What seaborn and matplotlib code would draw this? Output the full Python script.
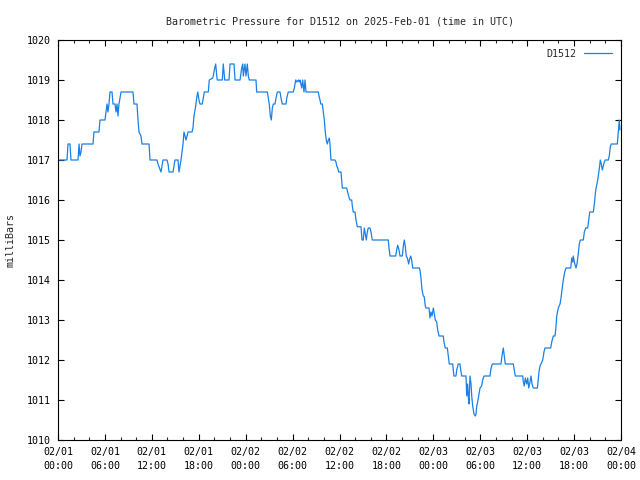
import matplotlib
matplotlib.use("Agg")
import matplotlib.pyplot as plt
import seaborn as sns
import pandas as pd
from matplotlib.ticker import MultipleLocator

# hours since 2025-02-01 00:00 UTC
hours = [
    0.00, 1.15, 1.28, 1.53, 1.66, 2.56, 2.69, 2.81, 2.94, 3.07, 4.48, 4.60, 5.24, 5.37, 6.01,
    6.14, 6.27, 6.39, 6.52, 6.65, 6.91, 7.03, 7.29, 7.42, 7.55, 7.67, 7.80, 8.06, 9.59, 9.72,
    10.10, 10.23, 10.36, 10.61, 10.74, 11.64, 11.77, 12.66, 12.79, 13.17, 13.43, 13.94, 14.07,
    14.20, 14.71, 14.96, 15.35, 15.47, 15.73, 15.86, 15.99,
    16.11, 16.24, 16.37, 16.50, 16.63, 17.14, 17.26, 17.39, 17.61, 17.74, 17.87, 18.03, 18.16,
    18.45, 18.58, 18.71, 19.22, 19.35, 19.78, 19.86, 19.99, 20.17, 20.30, 20.37, 21.01, 21.14,
    21.32, 21.87, 22.00, 22.51, 22.64, 23.28, 23.49, 23.62, 23.70, 23.91, 24.04, 24.21, 24.34,
    24.46, 25.32, 25.41, 26.77, 26.89, 27.02, 27.15, 27.28, 27.41, 27.53, 27.75, 27.88, 28.05,
    28.39, 28.52, 28.68, 29.16, 29.25, 29.45, 30.09, 30.22, 30.40, 30.53, 30.73, 30.86, 30.95,
    31.17, 31.29, 31.46, 31.59, 31.72,
    33.29, 33.38, 33.51, 33.60, 33.80, 33.93, 34.06, 34.18, 34.31, 34.44, 34.57, 34.70, 34.78,
    34.87, 34.91, 35.42, 35.55, 35.64, 35.77, 35.90, 36.19, 36.28, 36.36, 36.92, 37.05, 37.21,
    37.34, 37.56, 37.64, 37.76, 37.98, 38.11, 38.28, 38.75, 38.88, 39.04, 39.17, 39.30, 39.43,
    39.52, 39.61, 39.68, 39.90, 40.03, 40.19, 42.24, 42.33, 42.46, 43.19, 43.31, 43.44, 43.61,
    43.74, 44.03, 44.16, 44.29, 44.42, 44.54, 44.67, 44.85, 44.93, 45.11, 45.23, 45.36, 46.21,
    46.29, 46.42, 46.55, 46.72, 46.84, 46.97, 47.06, 47.45, 47.57, 47.70, 47.83, 48.00, 48.12,
    48.25, 48.43, 48.56, 48.72, 49.27, 49.36, 49.53, 49.79, 49.91, 50.04, 50.48, 50.55, 50.64,
    50.90, 50.99, 51.19, 51.41, 51.50, 51.63, 52.18, 52.27, 52.39, 52.47, 52.56, 52.69, 52.82,
    52.91, 53.03, 53.20, 53.37, 53.46, 53.55, 53.67, 53.80, 53.97, 54.18, 54.31, 54.48, 55.25,
    55.34, 55.46, 55.54, 56.65, 56.78, 56.95, 57.08, 57.20, 58.23, 58.35, 58.48, 59.43, 59.51,
    59.63, 59.76, 59.94, 60.07, 60.20, 60.36, 60.49, 60.62, 60.78, 61.30, 61.39, 61.51, 61.64,
    61.77, 61.99, 62.15, 62.28, 63.01, 63.14, 63.27, 63.34, 63.56, 63.65, 63.78, 63.98, 64.20,
    64.33, 64.45, 64.62, 64.80, 64.97, 65.57, 65.70, 65.82, 65.90, 66.03, 66.24, 66.37, 66.50,
    66.67, 66.80, 67.18, 67.31, 67.49, 67.74, 67.87, 68.00, 68.46, 68.59, 68.77, 68.89, 69.02,
    69.15, 69.28, 69.35, 69.48, 69.61, 69.74, 69.86, 69.99, 70.38, 70.50, 70.63, 70.76, 71.53,
    71.65, 71.78, 71.87,
]

pressure = [
    1017.0, 1017.0, 1017.4, 1017.4, 1017.0, 1017.0, 1017.4, 1017.1, 1017.2, 1017.4, 1017.4,
    1017.7, 1017.7, 1018.0, 1018.0, 1018.2, 1018.4, 1018.2, 1018.4, 1018.7, 1018.7, 1018.4,
    1018.4, 1018.2, 1018.4, 1018.1, 1018.4, 1018.7, 1018.7, 1018.4, 1018.4, 1018.0, 1017.7,
    1017.6, 1017.4, 1017.4, 1017.0, 1017.0, 1016.9, 1016.7, 1017.0, 1017.0, 1016.9, 1016.7,
    1016.7, 1017.0, 1017.0, 1016.7, 1017.0, 1017.2, 1017.4,
    1017.7, 1017.6, 1017.5, 1017.6, 1017.7, 1017.7, 1017.8, 1018.1, 1018.35, 1018.55, 1018.7,
    1018.5, 1018.4, 1018.4, 1018.55, 1018.7, 1018.7, 1019.0, 1019.05, 1019.1, 1019.25, 1019.4,
    1019.1, 1019.0, 1019.0, 1019.4, 1019.0, 1019.0, 1019.4, 1019.4, 1019.0, 1019.0, 1019.3,
    1019.4, 1019.1, 1019.4, 1019.1, 1019.4, 1019.1, 1019.0, 1019.0, 1018.7, 1018.7, 1018.55,
    1018.4, 1018.1, 1018.0, 1018.3, 1018.4, 1018.4, 1018.55, 1018.7, 1018.7, 1018.55, 1018.4,
    1018.4, 1018.55, 1018.7, 1018.7, 1018.8, 1019.0, 1018.95, 1019.0, 1018.95, 1019.0, 1018.8,
    1019.0, 1018.7, 1019.0, 1018.7,
    1018.7, 1018.6, 1018.5, 1018.4, 1018.4, 1018.2, 1018.0, 1017.7, 1017.5, 1017.4, 1017.5,
    1017.55, 1017.4, 1017.1, 1017.0, 1017.0, 1016.95, 1016.85, 1016.8, 1016.7, 1016.7, 1016.5,
    1016.3, 1016.3, 1016.2, 1016.07, 1016.0, 1016.0, 1015.85, 1015.7, 1015.7, 1015.5, 1015.33,
    1015.33, 1015.0, 1015.0, 1015.3, 1015.15, 1015.0, 1015.15, 1015.25, 1015.3, 1015.3, 1015.2,
    1015.0, 1015.0, 1014.8, 1014.6, 1014.6, 1014.75, 1014.87, 1014.75, 1014.6, 1014.6, 1014.85,
    1015.0, 1014.83, 1014.6, 1014.55, 1014.4, 1014.5, 1014.6, 1014.5, 1014.3, 1014.3, 1014.25,
    1014.05, 1013.75, 1013.6, 1013.58, 1013.35, 1013.3, 1013.3, 1013.05, 1013.2, 1013.1, 1013.3,
    1013.15, 1013.0, 1012.95, 1012.75, 1012.6, 1012.6, 1012.45, 1012.3, 1012.3, 1012.1, 1011.9,
    1011.9, 1011.75, 1011.6, 1011.6, 1011.75, 1011.9, 1011.9, 1011.75, 1011.6, 1011.6, 1011.1,
    1011.4, 1011.1, 1010.9, 1011.6, 1011.4, 1011.1, 1010.85, 1010.65, 1010.6, 1010.65, 1010.85,
    1010.95, 1011.1, 1011.3, 1011.35, 1011.5, 1011.6, 1011.6, 1011.75, 1011.85, 1011.9, 1011.9,
    1012.1, 1012.3, 1012.1, 1011.9, 1011.9, 1011.75, 1011.6, 1011.6, 1011.45, 1011.35, 1011.55,
    1011.4, 1011.55, 1011.3, 1011.45, 1011.6, 1011.4, 1011.3, 1011.3, 1011.45, 1011.7, 1011.85,
    1011.9, 1012.0, 1012.2, 1012.3, 1012.3, 1012.45, 1012.55, 1012.6, 1012.6, 1012.75, 1013.1,
    1013.3, 1013.4, 1013.55, 1013.75, 1014.0, 1014.2, 1014.3, 1014.3, 1014.55, 1014.45, 1014.6,
    1014.45, 1014.3, 1014.4, 1014.6, 1014.9, 1015.0, 1015.0, 1015.2, 1015.3, 1015.3, 1015.5,
    1015.7, 1015.7, 1015.9, 1016.25, 1016.37, 1016.5, 1016.67, 1016.87, 1017.0, 1016.9, 1016.75,
    1016.85, 1016.95, 1017.0, 1017.0, 1017.1, 1017.33, 1017.4, 1017.4, 1017.7, 1018.0, 1017.75,
]

tick_hours = [0, 6, 12, 18, 24, 30, 36, 42, 48, 54, 60, 66, 72]
tick_labels = ["02/01\n00:00", "02/01\n06:00", "02/01\n12:00", "02/01\n18:00",
               "02/02\n00:00", "02/02\n06:00", "02/02\n12:00", "02/02\n18:00",
               "02/03\n00:00", "02/03\n06:00", "02/03\n12:00", "02/03\n18:00",
               "02/04\n00:00"]
y_ticks = [1010, 1011, 1012, 1013, 1014, 1015, 1016, 1017, 1018, 1019, 1020]

df = pd.DataFrame({"hours": hours, "pressure": pressure, "station": "D1512"})

sns.set_theme(style="ticks")
plt.rcParams["font.family"] = ["DejaVu Sans Mono"]

fig = plt.figure(figsize=(6.4, 4.8), dpi=100)
ax = fig.add_axes([58 / 640, 40 / 480, 563 / 640, 400 / 480])

sns.lineplot(data=df, x="hours", y="pressure", hue="station", palette=["#1a80e8"],
             sort=False, estimator=None, linewidth=0.9, ax=ax)

ax.set_xlim(0, 72)
ax.set_ylim(1010, 1020)
ax.set_xticks(tick_hours)
ax.set_xticklabels(tick_labels, fontsize=7.2, linespacing=1.5)
ax.xaxis.set_minor_locator(MultipleLocator(2))
ax.set_yticks(y_ticks)
ax.set_yticklabels([str(v) for v in y_ticks], fontsize=7.2)
ax.tick_params(axis="both", which="major", direction="in", length=4, width=0.8,
               top=True, right=True, pad=5, colors="black")
ax.tick_params(axis="x", which="minor", direction="in", length=2.5, width=0.8,
               top=True, bottom=True)
for s in ax.spines.values():
    s.set_linewidth(0.8)
    s.set_color("black")
    s.set_visible(True)

ax.set_xlabel("")
ax.set_ylabel("milliBars", fontsize=7.2, labelpad=8)
ax.set_title("Barometric Pressure for D1512 on 2025-Feb-01 (time in UTC)",
             fontsize=7.2, pad=11)

leg = ax.legend(loc="upper right", frameon=False, fontsize=7.2, handlelength=2.8,
                handletextpad=0.8, borderaxespad=0.5, markerfirst=False)

fig.savefig("out.png", dpi=100, facecolor="white")
